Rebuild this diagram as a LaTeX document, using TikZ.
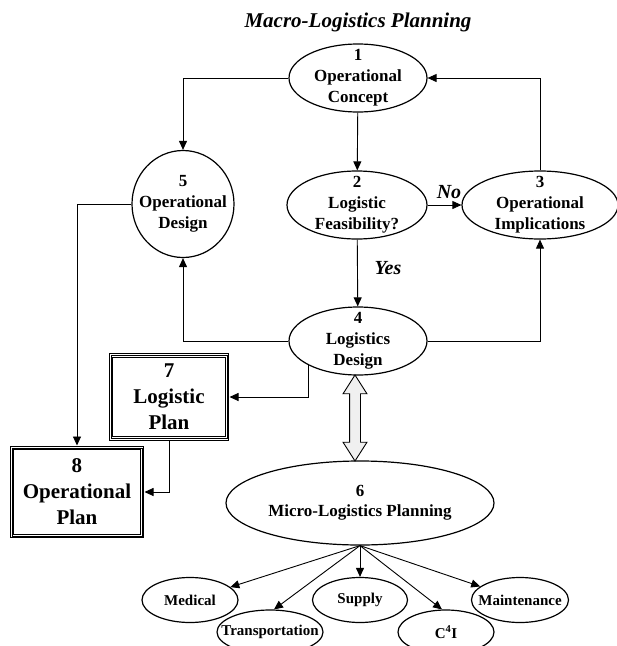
\documentclass[tikz,border=0pt]{standalone}
\usepackage{fontspec}
\setmainfont{Liberation Serif}
\usetikzlibrary{shapes.geometric,shapes.arrows,arrows.meta}

\tikzset{
    ell/.style={ellipse, draw, fill=white, line width=1.2pt, inner xsep=-20pt, inner ysep=-20pt,
        align=center, font=\fontsize{17}{21}\selectfont\bfseries},
    smallell/.style={ell, font=\fontsize{15}{18}\selectfont\bfseries},
    planbox/.style={draw, line width=0.9pt, inner sep=0pt, outer sep=2.5pt,
        preaction={draw, line width=0.9pt, double, double distance=2.8pt},
        align=center, font=\fontsize{21}{26}\selectfont\bfseries},
    arr/.style={-{Triangle[length=9pt,width=8pt]}, line width=0.9pt},
    lbl/.style={font=\fontsize{20}{24}\selectfont\bfseries\itshape},
}

\begin{document}
\begin{tikzpicture}[x=1pt, y=-1pt]
        \useasboundingbox (0,0) rectangle (617,646);

        \node[font=\fontsize{21}{25}\selectfont\bfseries\itshape] (title) at (358,22) {Macro-Logistics Planning};

        \node[ell, minimum width=138pt, minimum height=68pt] (conc) at (358,78) {1\\Operational\\Concept};
        \node[ell, minimum width=140pt, minimum height=68pt] (feas) at (357,205) {2\\Logistic\\Feasibility?};
        \node[ell, minimum width=156pt, minimum height=68pt] (impl) at (540,205) {3\\Operational\\Implications};
        \node[ell, minimum width=138pt, minimum height=68pt] (logdes) at (358,341) {4\\Logistics\\Design};
        \node[ell, minimum width=102pt, minimum height=107pt] (opdes) at (183,204) {5\\Operational\\Design};
        \node[ell, minimum width=268pt, minimum height=84pt, font=\fontsize{17}{20}\selectfont\bfseries] (micro) at (360,503) {6\\Micro-Logistics Planning};

        \node[planbox, minimum width=116pt, minimum height=83pt] (logplan) at (169,397) {7\\Logistic\\Plan};
        \node[planbox, minimum width=130pt, minimum height=88pt] (opplan) at (77,492) {8\\Operational\\Plan};

        \node[smallell, minimum width=96pt, minimum height=45pt] (med) at (190,600) {Medical};
        \node[smallell, minimum width=95pt, minimum height=45pt] (sup) at (360,600) {Supply};
        \node[smallell, minimum width=97pt, minimum height=45pt] (maint) at (520,600) {Maintenance};
        \node[smallell, minimum width=106pt, minimum height=44pt] (trans) at (270,632) {Transportation};
        \node[smallell, minimum width=96pt, minimum height=44pt] (cfour) at (446,632) {C\textsuperscript{4}I};

        \node[lbl] (no) at (449,192) {No};
        \node[lbl] (yes) at (388,268) {Yes};

        % links between the macro steps
        \draw[arr] (conc.west) -| (opdes.north);
        \draw[arr] (conc) -- (feas);
        \draw[arr] (feas) -- (impl);
        \draw[arr] (impl.north) |- (conc.east);
        \draw[arr] (feas) -- (logdes);
        \draw[arr] (logdes.west) -| (opdes.south);
        \draw[arr] (logdes.east) -| (impl.south);
        \draw[arr] (opdes.west) -| (opplan.north);
        \draw[arr] (logdes.south west) |- (logplan.east);
        \draw[arr] (logplan.south) |- (opplan.east);

        \node[double arrow, draw, line width=0.9pt, fill=gray!12, rotate=90, minimum height=86pt,
            inner xsep=0pt, inner ysep=5pt, double arrow head extend=6.5pt,
            double arrow tip angle=65] (link) at (355,418) {};

        % micro planning areas
        \draw[arr] (micro.south) -- (med);
        \draw[arr] (micro.south) -- (trans.80);
        \draw[arr] (micro.south) -- (sup);
        \draw[arr] (micro.south) -- (cfour.100);
        \draw[arr] (micro.south) -- (maint);
\end{tikzpicture}
\end{document}
